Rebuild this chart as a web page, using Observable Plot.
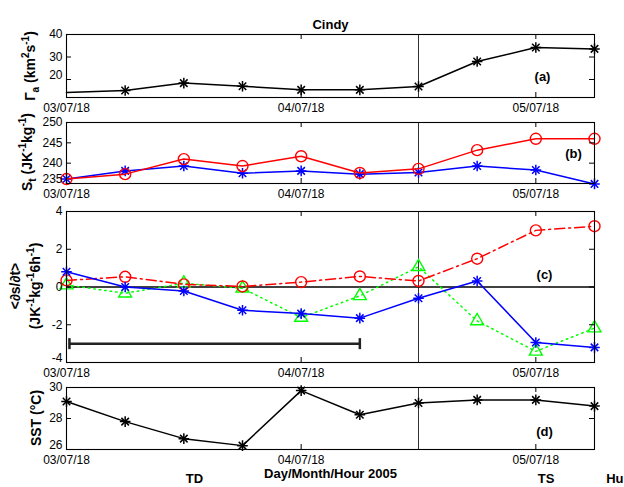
<!DOCTYPE html>
<html><head><meta charset="utf-8">
<script src="https://cdn.jsdelivr.net/npm/d3@7"></script>
<script src="https://cdn.jsdelivr.net/npm/@observablehq/plot@0.6"></script>
<style>
body{margin:0;background:#fff;}
#chart{position:relative;width:624px;height:487px;overflow:hidden;background:#fff;}
#chart svg{position:absolute;left:0;overflow:visible;}
</style></head><body><div id="chart"></div>
<script>
// ---------- data ----------
const hours = [0, 6, 12, 18, 24, 30, 36, 42, 48, 54];            // hours after 03/07/18
const dayTicks = [0, 24, 48];
const dayLabels = ["03/07/18", "04/07/18", "05/07/18"];
const transitionHour = [36];
const gammaA = [14.2, 15.1, 18.4, 17.0, 15.4, 15.4, 16.9, 28.0, 34.2, 33.6];
const stBlue = [236.1, 238.1, 239.3, 237.5, 238.1, 237.3, 237.7, 239.3, 238.3, 234.9];
const stRed  = [236.1, 237.3, 241.0, 239.3, 241.7, 237.6, 238.6, 243.2, 246.0, 246.0];
const dsBlue  = [0.81, 0.0, -0.21, -1.23, -1.41, -1.65, -0.6, 0.32, -2.94, -3.2];
const dsRed   = [0.35, 0.54, 0.14, 0.03, 0.26, 0.56, 0.32, 1.5, 3.0, 3.22];
const dsGreen = [0.1, -0.33, 0.2, -0.07, -1.62, -0.47, 1.07, -1.8, -3.41, -2.18];
const sst = [29.1, 27.8, 26.7, 26.25, 29.8, 28.24, 29.0, 29.2, 29.2, 28.8];
const spanBar = [{x1: 0.3, x2: 30, y: -3}];
const stages = [{hour: 12.2, name: "TD"}, {hour: 48.2, name: "TS"}, {hour: 55.2, name: "Hu"}];
const ticksA = [20, 30, 40], ticksB = [235, 240, 245, 250], ticksC = [-4, -2, 0, 2, 4], ticksD = [26, 28, 30];

// ---------- helpers ----------
const FONT = '"Liberation Sans", Arial, Helvetica, sans-serif';
const W = 624, ML = 66, MR = 30, PW = W - ML - MR;
const container = document.getElementById("chart");
const rows = vals => hours.map((h, i) => ({h, v: vals[i]}));
const vbar = {draw(ctx, size) { const r = Math.sqrt(size / Math.PI); ctx.moveTo(0, -r); ctx.lineTo(0, r); }};

function stars(data, color) {
  return ["plus", "times"].map(s => Plot.dot(data, {x: "h", y: "v", symbol: s, r: 3.5, stroke: color, strokeWidth: 1.5}));
}
function panelTag(text, frameAnchor, dx, dy) {
  return Plot.text([text], {text: d => d, frameAnchor, dx, dy, textAnchor: "middle", fontWeight: "bold", fontSize: 13});
}
function makePanel({top, mt, ph, mb, yDomain, yTicks, marks}) {
  const yAxisOpts = {tickSize: 0, tickPadding: 4, tickFormat: d => String(d), label: null};
  const svg = Plot.plot({
    width: W, height: mt + ph + mb,
    marginLeft: ML, marginRight: MR, marginTop: mt, marginBottom: mb,
    style: {fontFamily: FONT, fontSize: "12px", background: "transparent", overflow: "visible", color: "black"},
    x: {domain: [hours[0], hours[hours.length - 1]]},
    y: {domain: yDomain},
    marks: [
      Plot.ruleX(transitionHour, {x: d => d, stroke: "#333", strokeWidth: 1}),
      ...marks,
      Plot.frame({stroke: "black", strokeWidth: 1.1}),
      Plot.tickY(yTicks, {y: d => d, insetRight: PW - 5, stroke: "black"}),
      Plot.tickY(yTicks, {y: d => d, insetLeft: PW - 5, stroke: "black"}),
      Plot.tickX(dayTicks, {x: d => d, insetTop: ph - 5, stroke: "black"}),
      Plot.tickX(dayTicks, {x: d => d, insetBottom: ph - 5, stroke: "black"}),
      Plot.axisY({...yAxisOpts, ticks: yTicks.slice(1)}),
      Plot.axisY({...yAxisOpts, ticks: yTicks.slice(0, 1), dy: -4}),
      Plot.axisX({ticks: dayTicks, tickSize: 0, tickPadding: 6, tickFormat: d => dayLabels[dayTicks.indexOf(d)], label: null})
    ]
  });
  svg.style.top = top + "px";
  container.append(svg);
  return svg;
}
function yLabel(svg, top, cy, lines) {
  const g = d3.select(svg).append("g").attr("font-family", FONT).attr("font-weight", "bold")
    .attr("font-size", 14).attr("fill", "black");
  for (const {x, parts} of lines) {
    const t = g.append("text").attr("transform", `translate(${x},${cy - top}) rotate(-90)`).attr("text-anchor", "middle");
    let cur = 0;
    for (const [s, kind] of parts) {
      const target = kind === 1 ? 4 : kind === -1 ? -6 : 0;
      t.append("tspan").attr("dy", target - cur).attr("font-size", kind ? 10 : 14).text(s);
      cur = target;
    }
  }
}

// ---------- panel (a) ----------
const dA = rows(gammaA);
const svgA = makePanel({top: 0, mt: 34, ph: 63, mb: 15, yDomain: [12, 40], yTicks: ticksA, marks: [
  Plot.line(dA, {x: "h", y: "v", stroke: "black", strokeWidth: 1.5}),
  ...stars(dA.slice(1), "black"),
  panelTag("(a)", "bottom-right", -52, -17),
  Plot.text(["Cindy"], {text: d => d, frameAnchor: "top", dy: -15, fontWeight: "bold", fontSize: 13})
]});
yLabel(svgA, 0, 66, [{x: 35, parts: [["Γ", 0], ["a", 1], [" (km", 0], ["2", -1], ["s", 0], ["-1", -1], [")", 0]]}]);

// ---------- panel (b) ----------
const dBb = rows(stBlue), dBr = rows(stRed);
const svgB = makePanel({top: 112, mt: 10, ph: 61, mb: 17, yDomain: [235, 250], yTicks: ticksB, marks: [
  Plot.line(dBb, {x: "h", y: "v", stroke: "#0000ff", strokeWidth: 1.5}),
  ...stars(dBb, "#0000ff"),
  Plot.line(dBr, {x: "h", y: "v", stroke: "#ff0000", strokeWidth: 1.5}),
  Plot.dot(dBr, {x: "h", y: "v", r: 5.5, stroke: "#ff0000", strokeWidth: 1.4, fill: "none"}),
  panelTag("(b)", "bottom-right", -21, -26)
]});
yLabel(svgB, 112, 152, [{x: 32, parts: [["S", 0], ["t", 1], [" (JK", 0], ["-1", -1], ["kg", 0], ["-1", -1], [")", 0]]}]);

// ---------- panel (c) ----------
const dCb = rows(dsBlue), dCr = rows(dsRed), dCg = rows(dsGreen);
const svgC = makePanel({top: 200, mt: 11, ph: 151, mb: 14, yDomain: [-4, 4], yTicks: ticksC, marks: [
  Plot.ruleY([0], {stroke: "black", strokeWidth: 1.3}),
  Plot.ruleY(spanBar, {y: "y", x1: "x1", x2: "x2", stroke: "#222", strokeWidth: 2.5}),
  Plot.dot(spanBar.flatMap(d => [{x: d.x1, y: d.y}, {x: d.x2, y: d.y}]), {x: "x", y: "y", symbol: vbar, r: 5.5, stroke: "#222", strokeWidth: 2.5}),
  Plot.line(dCg, {x: "h", y: "v", stroke: "#00ff00", strokeWidth: 1.5, strokeDasharray: "1.5,4"}),
  Plot.dot(dCg, {x: "h", y: "v", symbol: "triangle", r: 4.8, stroke: "#00ff00", strokeWidth: 1.4, fill: "none"}),
  Plot.line(dCr, {x: "h", y: "v", stroke: "#ff0000", strokeWidth: 1.5, strokeDasharray: "10,4,2,4"}),
  Plot.dot(dCr, {x: "h", y: "v", r: 5.5, stroke: "#ff0000", strokeWidth: 1.4, fill: "none"}),
  Plot.line(dCb, {x: "h", y: "v", stroke: "#0000ff", strokeWidth: 1.5}),
  ...stars(dCb, "#0000ff"),
  panelTag("(c)", "top-right", -50, 58)
]});
yLabel(svgC, 200, 286, [
  {x: 20, parts: [["<∂s/∂t>", 0]]},
  {x: 40, parts: [["(JK", 0], ["-1", -1], ["kg", 0], ["-1", -1], ["6h", 0], ["-1", -1], [")", 0]]}
]);

// ---------- panel (d) ----------
const dD = rows(sst);
const svgD = makePanel({top: 376, mt: 11, ph: 62, mb: 38, yDomain: [26, 30], yTicks: ticksD, marks: [
  Plot.line(dD, {x: "h", y: "v", stroke: "black", strokeWidth: 1.5}),
  ...stars(dD, "black"),
  panelTag("(d)", "bottom-right", -50, -14),
  Plot.text(["Day/Month/Hour 2005"], {text: d => d, frameAnchor: "bottom", dy: 28, fontWeight: "bold", fontSize: 13}),
  Plot.text(stages, {x: "hour", text: "name", frameAnchor: "bottom", dy: 33, textAnchor: "start", fontWeight: "bold", fontSize: 13})
]});
yLabel(svgD, 376, 418, [{x: 41, parts: [["SST (°C)", 0]]}]);
</script></body></html>
